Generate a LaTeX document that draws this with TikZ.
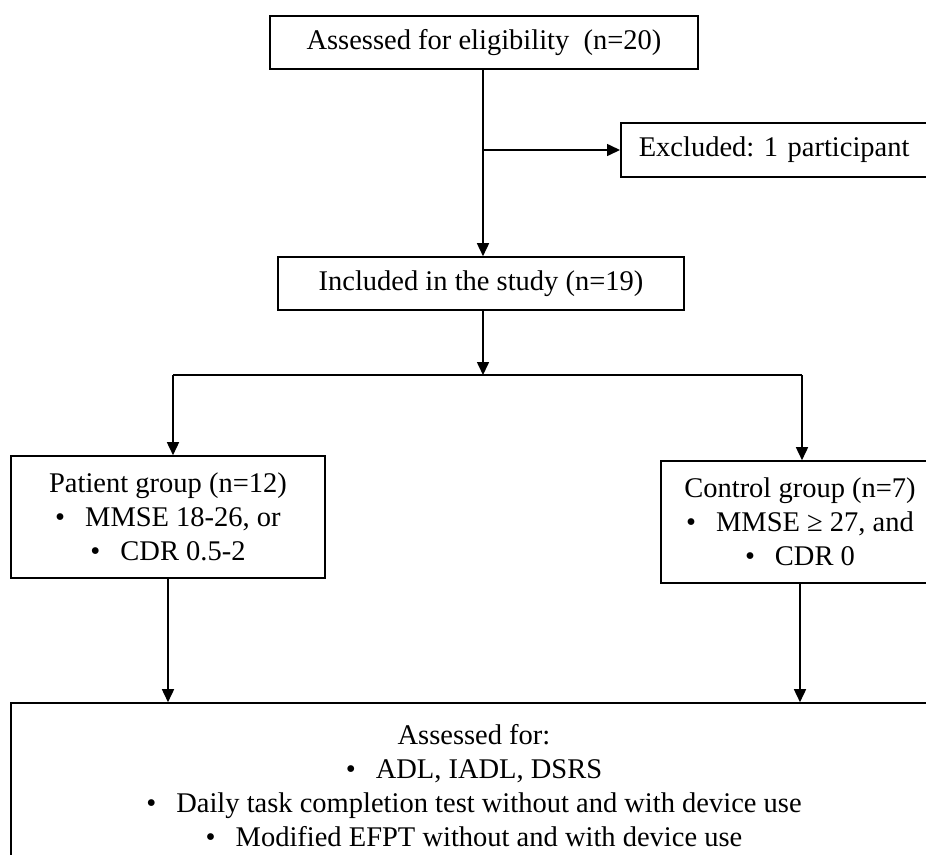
\documentclass[tikz,border=0pt]{standalone}
\usepackage{fontspec}
\setmainfont{Liberation Serif}
\frenchspacing
\usetikzlibrary{arrows.meta}
\tikzset{
  box/.style={draw=black, line width=1.6pt, rectangle, inner sep=0pt, align=center,
    font=\fontsize{28.5pt}{34pt}\selectfont},
  arr/.style={line width=1.6pt, -{Triangle[length=13pt,width=12pt]}},
  ln/.style={line width=1.6pt}
}
\newcommand{\blt}{\textbullet\hspace{20pt}}
\begin{document}
\begin{tikzpicture}[x=1pt,y=-1pt]
\useasboundingbox (0,0) rectangle (926,854);
\fill[white] (0,0) rectangle (926,854);
\clip (0,0) rectangle (926,854);

\node[box, minimum width=428pt, minimum height=53pt] (top) at (484,42.5) {Assessed for eligibility\ \ (n=20)};
\node[box, anchor=west, minimum height=54pt, text width=284pt, align=left, inner xsep=18pt] (excl) at (620,150) {Excluded: 1 participant};
\node[box, minimum width=406pt, minimum height=53pt] (incl) at (481,283.5) {Included in the study (n=19)};
\node[box, minimum width=314pt, minimum height=122pt] (pa) at (168,517) {Patient group (n=12)\\ \blt MMSE 18-26, or\\ \blt CDR 0.5-2};
\node[box, minimum width=278pt, minimum height=122pt] (co) at (800,522) {Control group (n=7)\\ \blt MMSE ≥ 27, and\\ \blt CDR 0};
\node[box, minimum width=926pt, minimum height=166pt] (bot) at (474,786) {Assessed for:\\ \blt ADL, IADL, DSRS\\ \blt Daily task completion test without and with device use\\ \blt Modified EFPT without and with device use};

\coordinate (split) at (483,375);
\coordinate (bl) at (173,375);
\coordinate (br) at (802,375);

\draw[arr] (top.south -| split) -- (split |- incl.north);
\draw[arr] (split |- excl.west) -- (excl.west);
\draw[arr] (split |- incl.south) -- (split);
\draw[ln] (bl) -- (br);
\draw[arr] (bl) -- (bl |- pa.north);
\draw[arr] (br) -- (br |- co.north);
\draw[arr] (pa.south) -- (pa.south |- bot.north);
\draw[arr] (co.south) -- (co.south |- bot.north);
\end{tikzpicture}
\end{document}
